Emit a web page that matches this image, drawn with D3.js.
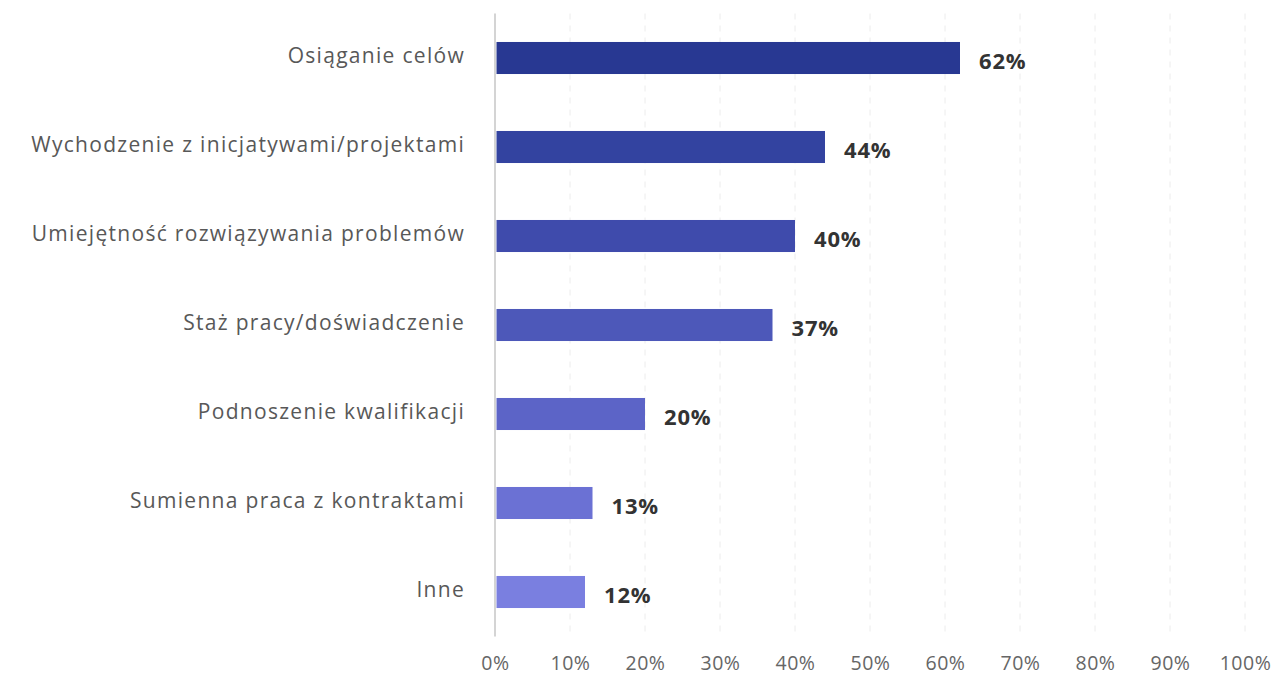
<!DOCTYPE html>
<html>
<head>
<meta charset="utf-8">
<script src="https://cdn.jsdelivr.net/npm/d3@7"></script>
<style>
  html, body { margin: 0; padding: 0; background: #fff; }
  svg { display: block; font-family: "Open Sans", sans-serif; }
</style>
</head>
<body>
<svg id="chart" width="1271" height="677"></svg>
<script>
const categories = [
  "Osiąganie celów",
  "Wychodzenie z inicjatywami/projektami",
  "Umiejętność rozwiązywania problemów",
  "Staż pracy/doświadczenie",
  "Podnoszenie kwalifikacji",
  "Sumienna praca z kontraktami",
  "Inne"
];
const values = [62, 44, 40, 37, 20, 13, 12];
const barColors = ["#283892", "#3343a0", "#3f4bac", "#4d58b9", "#5c64c7", "#6b71d4", "#7a7fe0"];
const tickValues = [0, 10, 20, 30, 40, 50, 60, 70, 80, 90, 100];

const svg = d3.select("#chart");
const plotLeft = 495, plotRight = 1245, plotTop = 13.5, plotBottom = 636.5;

const x = d3.scaleLinear().domain([0, 100]).range([plotLeft, plotRight]);
const y = d3.scaleBand().domain(categories).range([plotTop, plotBottom]).paddingInner(0.64).paddingOuter(0.32);

// dashed vertical gridlines
svg.append("g")
  .selectAll("line")
  .data(tickValues.slice(1))
  .join("line")
  .attr("x1", d => x(d)).attr("x2", d => x(d))
  .attr("y1", plotTop).attr("y2", plotBottom)
  .attr("stroke", "#ececec")
  .attr("stroke-width", 1)
  .attr("stroke-dasharray", "6,6");

// bottom tick labels
const xAxis = d3.axisBottom(x).tickValues(tickValues).tickFormat(d => d + "%").tickSize(0).tickPadding(0);
const gx = svg.append("g").attr("transform", `translate(0,${plotBottom + 20})`).call(xAxis);
gx.select(".domain").remove();
gx.selectAll("text")
  .attr("font-size", 19.5)
  .attr("fill", "#666")
  .attr("font-family", "Open Sans, sans-serif")
  .attr("letter-spacing", 0.5)
  .attr("dy", "0.71em");

// bars
svg.append("g")
  .selectAll("rect")
  .data(categories)
  .join("rect")
  .attr("x", x(0) + 1.5)
  .attr("y", d => y(d))
  .attr("width", (d, i) => x(values[i]) - x(0) - 1.5)
  .attr("height", y.bandwidth())
  .attr("fill", (d, i) => barColors[i]);

// vertical axis line
svg.append("line")
  .attr("x1", plotLeft).attr("x2", plotLeft)
  .attr("y1", plotTop).attr("y2", plotBottom)
  .attr("stroke", "#d4d4d4")
  .attr("stroke-width", 2);

// category labels
const yAxis = d3.axisLeft(y).tickSize(0).tickPadding(30);
const gy = svg.append("g").attr("transform", `translate(${plotLeft},0)`).call(yAxis);
gy.select(".domain").remove();
gy.selectAll("text")
  .attr("font-size", 21)
  .attr("fill", "#585858")
  .attr("font-family", "Open Sans, sans-serif")
  .attr("letter-spacing", 1.3)
  .attr("dy", "0.25em");

// value labels
svg.append("g")
  .selectAll("text")
  .data(categories)
  .join("text")
  .attr("x", (d, i) => x(values[i]) + 19)
  .attr("y", d => y(d) + y.bandwidth() / 2 + 3)
  .attr("dy", "0.35em")
  .attr("font-size", 22)
  .attr("font-weight", "bold")
  .attr("letter-spacing", 0.8)
  .attr("fill", "#333")
  .text((d, i) => values[i] + "%");
</script>
</body>
</html>
